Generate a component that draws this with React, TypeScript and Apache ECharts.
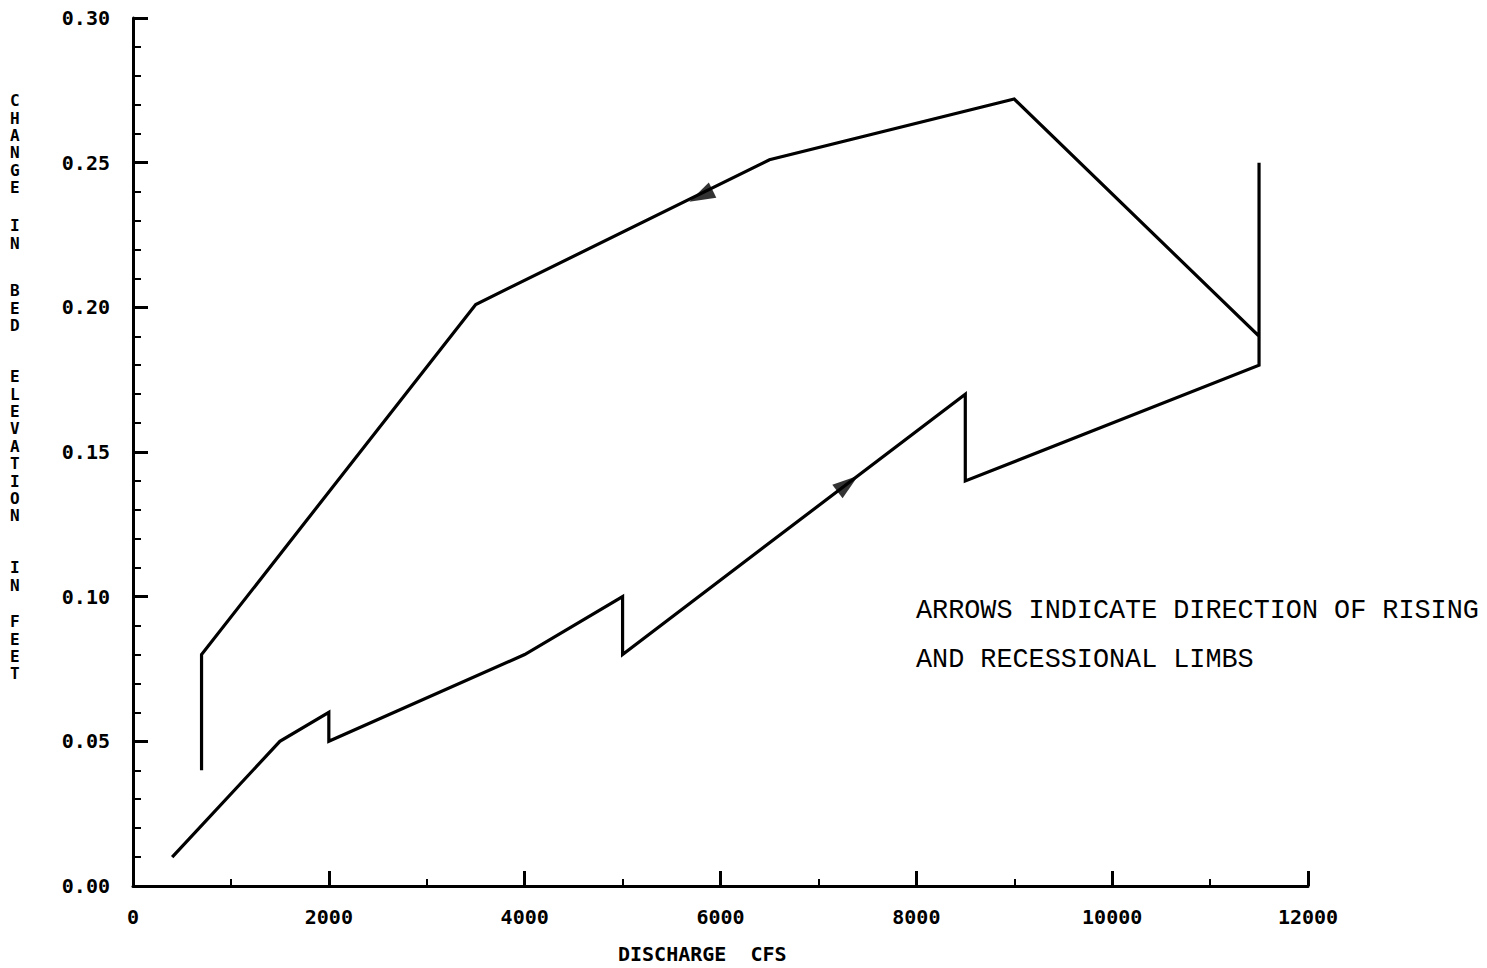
import React, { useEffect, useRef } from "react";
import * as echarts from "echarts";

// Path of the hysteresis loop (rising limb then recessional limb)
const dischargeCfs = [400, 1500, 2000, 2000, 4000, 5000, 5000, 8500, 8500, 11500, 11500, 11500, 9000, 6500, 3500, 700, 700];
const bedChangeFt = [0.01, 0.05, 0.06, 0.05, 0.08, 0.10, 0.08, 0.17, 0.14, 0.18, 0.25, 0.19, 0.272, 0.251, 0.201, 0.08, 0.04];

// Direction arrows: position and the path segment (start index) they sit on
const arrowDischarge = [5800, 7300];
const arrowBedChange = [0.2385, 0.1391];
const arrowSegmentStart = [13, 6];

const xTickLabels = ["0", "2000", "4000", "6000", "8000", "10000", "12000"];
const yTitleWords = ["CHANGE", "IN", "BED", "ELEVATION", "IN", "FEET"];
const yTitleTops = [100, 225, 290, 376, 567, 621];
const noteLines = ["ARROWS INDICATE DIRECTION OF RISING", "AND RECESSIONAL LIMBS"];

const plotFont = "DejaVu Sans Mono";

export default function App() {
  const ref = useRef<HTMLDivElement>(null);
  useEffect(() => {
    document.body.style.margin = "0";
    const chart = echarts.init(ref.current!, null, { renderer: "svg" });
    const lineData = dischargeCfs.map((x, i) => [x, bedChangeFt[i]]);
    const arrowData = arrowDischarge.map((x, i) => [x, arrowBedChange[i]]);

    const graphics: any[] = [];
    yTitleWords.forEach((w, i) => {
      graphics.push({
        type: "text",
        left: 10,
        top: yTitleTops[i] - 8,
        style: {
          text: w.split("").join("\n"),
          font: `bold 16px "${plotFont}"`,
          lineHeight: 17.4,
          fill: "#000",
          align: "center",
        },
      });
    });
    graphics.push({
      type: "text",
      left: 618,
      top: 944,
      style: { text: "DISCHARGE  CFS", font: `bold 20px "${plotFont}"`, fill: "#000" },
    });
    noteLines.forEach((t, i) => {
      graphics.push({
        type: "text",
        left: 916,
        top: 597 + i * 49,
        style: { text: t, font: `26.8px "Liberation Mono"`, fill: "#000" },
      });
    });

    const baseOption: any = {
      animation: false,
      backgroundColor: "#fff",
      grid: { left: 133, top: 18, right: 179, bottom: 82, containLabel: false },
      xAxis: {
        type: "value",
        min: 0,
        max: 12000,
        interval: 2000,
        axisLine: { show: true, lineStyle: { color: "#000", width: 3 } },
        axisTick: { show: true, inside: true, length: 15, lineStyle: { color: "#000", width: 3 } },
        minorTick: { show: true, splitNumber: 2, length: 7, lineStyle: { color: "#000", width: 2 } },
        splitLine: { show: false },
        axisLabel: {
          margin: 21,
          color: "#000",
          fontFamily: plotFont,
          fontWeight: "bold",
          fontSize: 20,
          formatter: (v: number) => xTickLabels[Math.round(v / 2000)] ?? String(v),
        },
      },
      yAxis: {
        type: "value",
        min: 0,
        max: 0.3,
        interval: 0.05,
        axisLine: { show: true, lineStyle: { color: "#000", width: 3 } },
        axisTick: { show: true, inside: true, length: 15, lineStyle: { color: "#000", width: 3 } },
        minorTick: { show: true, splitNumber: 5, length: 8, lineStyle: { color: "#000", width: 2 } },
        splitLine: { show: false },
        axisLabel: {
          margin: 23,
          color: "#000",
          fontFamily: plotFont,
          fontWeight: "bold",
          fontSize: 20,
          formatter: (v: number) => v.toFixed(2),
        },
      },
      graphic: graphics,
      series: [
        {
          type: "line",
          data: lineData,
          showSymbol: false,
          symbol: "none",
          lineStyle: { color: "#000", width: 3.2, join: "miter" },
          silent: true,
        },
        {
          type: "scatter",
          data: arrowData,
          symbol: "triangle",
          symbolSize: [17, 26],
          itemStyle: { color: "#000" },
          silent: true,
        },
      ],
    };
    chart.setOption(baseOption);

    const rotations = arrowSegmentStart.map((s) => {
      const p1 = chart.convertToPixel({ gridIndex: 0 }, lineData[s]) as number[];
      const p2 = chart.convertToPixel({ gridIndex: 0 }, lineData[s + 1]) as number[];
      const ang = (Math.atan2(-(p2[1] - p1[1]), p2[0] - p1[0]) * 180) / Math.PI;
      return ang - 90;
    });
    chart.setOption({
      series: [
        {},
        {
          data: arrowData.map((d, i) => ({ value: d, symbolRotate: rotations[i] })),
        },
      ],
    });

    return () => chart.dispose();
  }, []);
  return <div ref={ref} style={{ width: 1487, height: 968 }} />;
}
